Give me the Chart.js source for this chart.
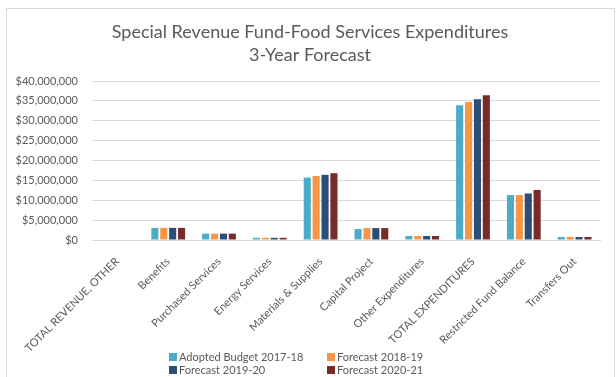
<!DOCTYPE html>
<html>
<head>
<meta charset="utf-8">
<script src="https://cdn.jsdelivr.net/npm/chart.js@4/dist/chart.umd.min.js"></script>
<style>
  html, body { margin: 0; padding: 0; background: #fff; }
  #wrap { width: 616px; height: 377px; position: relative; }
</style>
</head>
<body>
<div id="wrap"><canvas id="myChart" width="616" height="377"></canvas></div>
<script>
const titulo = ["Special Revenue Fund-Food Services Expenditures", "3-Year Forecast"];

const categorias = [
  "TOTAL REVENUE, OTHER", "Benefits", "Purchased Services", "Energy Services",
  "Materials & Supplies", "Capital Project", "Other Expenditures",
  "TOTAL EXPENDITURES", "Restricted Fund Balance", "Transfers Out"
];

const series = ["Adopted Budget 2017-18", "Forecast 2018-19", "Forecast 2019-20", "Forecast 2020-21"];
const cores = ["#4BACC6", "#F79646", "#2C4D75", "#772C2A"];

const orcado1718   = [0, 3050000, 1600000, 550000, 15700000, 2750000, 1000000, 33900000, 11300000, 750000];
const previsao1819 = [0, 3050000, 1600000, 550000, 16100000, 3000000, 1000000, 34700000, 11300000, 750000];
const previsao1920 = [0, 3050000, 1600000, 550000, 16400000, 3000000, 1000000, 35400000, 11700000, 750000];
const previsao2021 = [0, 3050000, 1600000, 550000, 16800000, 3000000, 1000000, 36400000, 12600000, 750000];

const valores = [orcado1718, previsao1819, previsao1920, previsao2021];

const fonte = "Lato, 'Open Sans', sans-serif";
const cinza = "#595959";

// titulo em duas linhas e moldura do grafico
const tituloPlugin = {
  id: 'tituloExcel',
  beforeDraw(chart) {
    const ctx = chart.ctx;
    ctx.save();
    ctx.strokeStyle = "#d9d9d9";
    ctx.lineWidth = 1;
    ctx.strokeRect(6.5, 8.5, 608, 400);
    ctx.fillStyle = cinza;
    ctx.font = "18px " + fonte;
    ctx.textAlign = "center";
    ctx.textBaseline = "middle";
    ctx.fillText(titulo[0], 310, 32);
    ctx.fillText(titulo[1], 310, 55);
    ctx.restore();
  }
};

// legenda em duas colunas
const legendaPlugin = {
  id: 'legendaDuasColunas',
  afterDraw(chart) {
    const ctx = chart.ctx;
    const colX = [169, 327];
    const linY = [357, 370];
    ctx.save();
    ctx.font = "11px " + fonte;
    ctx.textBaseline = "middle";
    ctx.textAlign = "left";
    chart.data.datasets.forEach(function(ds, i) {
      const x = colX[i % 2];
      const y = linY[Math.floor(i / 2)];
      ctx.fillStyle = ds.backgroundColor;
      ctx.fillRect(x, y - 4, 8, 8);
      ctx.fillStyle = cinza;
      ctx.fillText(ds.label, x + 10, y);
    });
    ctx.restore();
  }
};

const ctx = document.getElementById('myChart');
Chart.defaults.font.family = fonte;
Chart.defaults.font.size = 11;
Chart.defaults.color = cinza;

const grafico = new Chart(ctx, {
  type: 'bar',
  data: {
    labels: categorias,
    datasets: series.map(function(nome, i) {
      return {
        label: nome,
        data: valores[i],
        backgroundColor: cores[i],
        categoryPercentage: 0.7,
        barPercentage: 0.8
      };
    })
  },
  options: {
    responsive: false,
    animation: false,
    layout: { padding: { left: 8, right: 16, top: 81, bottom: 0 } },
    plugins: {
      legend: { display: false },
      title: { display: false },
      tooltip: { enabled: false }
    },
    scales: {
      x: {
        grid: { display: false },
        border: { display: true, color: "#d9d9d9" },
        ticks: { autoSkip: false, minRotation: 45, maxRotation: 45, padding: 7 },
        afterFit: function(scale) { scale.height = 137; }
      },
      y: {
        min: 0,
        max: 40000000,
        grid: { color: "#d9d9d9", drawTicks: false },
        border: { display: false },
        ticks: {
          stepSize: 5000000,
          padding: 14,
          callback: function(v) { return "$" + v.toLocaleString("en-US"); }
        },
        afterFit: function(scale) { scale.width = 84; }
      }
    }
  },
  plugins: [tituloPlugin, legendaPlugin]
});
</script>
</body>
</html>
